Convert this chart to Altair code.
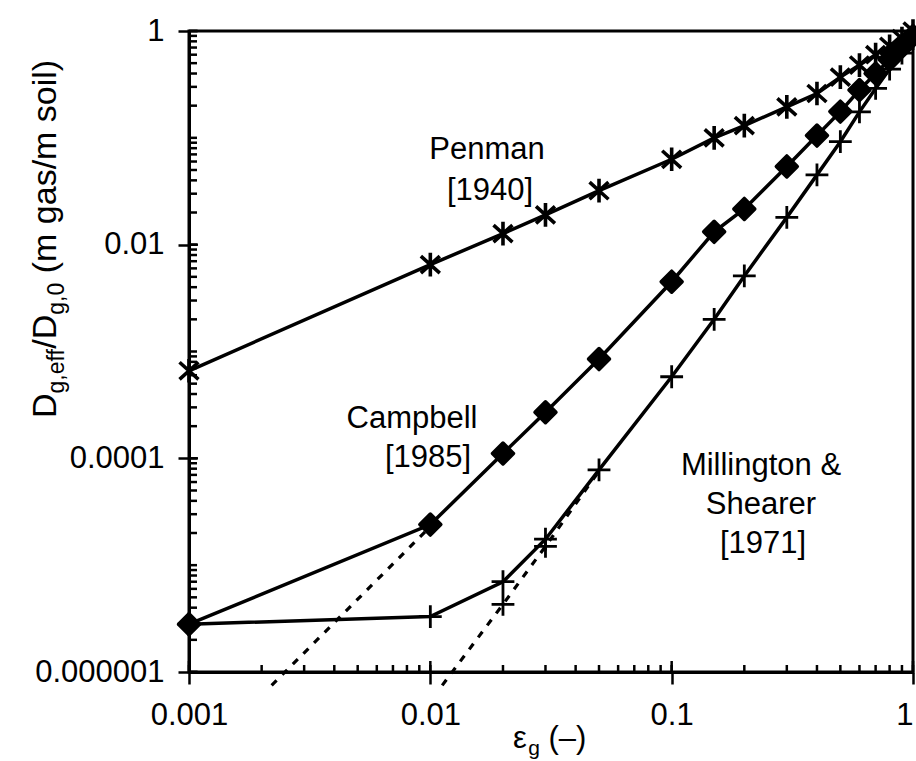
import altair as alt
import pandas as pd

# Gas-filled porosity (m3 gas / m3 soil) at which each model is evaluated
eps = [0.001, 0.01, 0.02, 0.03, 0.05, 0.1, 0.15, 0.2, 0.3, 0.4, 0.5, 0.6, 0.7, 0.8, 0.9, 1.0]

# Relative effective diffusivity Dg,eff/Dg,0 for each model
penman = [6.6e-4, 6.5e-3, 0.0127, 0.019, 0.032, 0.063, 0.10, 0.13, 0.195, 0.26, 0.37, 0.48, 0.60, 0.72, 0.85, 1.0]
campbell = [2.8e-6, 2.4e-5, 1.11e-4, 2.7e-4, 8.5e-4, 4.5e-3, 0.0132, 0.0216, 0.054, 0.105, 0.176, 0.28, 0.40, 0.54, 0.71, 0.9]
millington = [2.8e-6, 3.3e-6, 7.0e-6, 1.75e-5, 7.8e-5, 5.8e-4, 2.0e-3, 5.1e-3, 0.018, 0.045, 0.092, 0.175, 0.29, 0.44, 0.62, 0.85]

# Pure power-law branches (no minimum diffusivity), drawn dashed
campbell_pl_eps = [0.0022, 0.01]
campbell_pl = [7.5e-7, 2.3e-5]
millington_pl_eps = [0.0112, 0.02, 0.03, 0.05]
millington_pl = [7.5e-7, 4.3e-6, 1.5e-5, 7.6e-5]

# Axis tick values
x_labels = [0.001, 0.01, 0.1, 1]
y_labels = [1e-6, 1e-4, 1e-2, 1]
x_minor = [m * 10.0 ** e for e in range(-3, 0) for m in range(1, 10)] + [1.0]
y_minor = [m * 10.0 ** e for e in range(-6, 0) for m in range(1, 10)] + [1.0]

W, H = 724, 641
FONT = "Liberation Sans"
FS = 31

solid = pd.concat([
    pd.DataFrame({"eps": eps, "D": penman, "model": "Penman"}),
    pd.DataFrame({"eps": eps, "D": campbell, "model": "Campbell"}),
    pd.DataFrame({"eps": eps, "D": millington, "model": "Millington"}),
])
dashed = pd.concat([
    pd.DataFrame({"eps": campbell_pl_eps, "D": campbell_pl, "model": "Campbell"}),
    pd.DataFrame({"eps": millington_pl_eps, "D": millington_pl, "model": "Millington"}),
])
mill_marks = pd.concat([
    pd.DataFrame({"eps": eps, "D": millington}),
    pd.DataFrame({"eps": millington_pl_eps[1:3], "D": millington_pl[1:3]}),
])

xs = alt.Scale(type="log", domain=[0.001, 1], nice=False)
ys = alt.Scale(type="log", domain=[1e-6, 1], nice=False)

x_axis = alt.Axis(values=x_labels, format="~g", title="", grid=False,
                  domainColor="black", domainWidth=3, tickColor="black",
                  tickWidth=2.5, tickSize=12, labelFont=FONT, labelFontSize=FS,
                  labelColor="black", labelPadding=16, labelFlush=False,
                  labelAlign={"expr": "datum.value >= 1 ? 'right' : 'center'"},
                  labelOverlap=False, labelBound=False)
y_axis = alt.Axis(values=y_labels, format="~g", title="", grid=False,
                  domainColor="black", domainWidth=3, tickColor="black",
                  tickWidth=2.5, tickSize=11, labelFont=FONT, labelFontSize=FS,
                  labelColor="black", labelPadding=14, labelFlush=False,
                  labelOverlap=False, labelBound=False)

def X(field):
    return alt.X(f"{field}:Q", scale=xs, axis=x_axis)

def Y(field):
    return alt.Y(f"{field}:Q", scale=ys, axis=y_axis)

lines = alt.Chart(solid).mark_line(color="black", strokeWidth=3.5).encode(
    x=X("eps"), y=Y("D"), detail="model:N", order="eps:Q")

dash_lines = alt.Chart(dashed).mark_line(
    color="black", strokeWidth=3.2, strokeDash=[7, 8]).encode(
    x=X("eps"), y=Y("D"), detail="model:N", order="eps:Q")

STAR = "M0,-1L0,1M-0.8,-0.72L0.8,0.72M-0.8,0.72L0.8,-0.72"
PLUS = "M-1,0L1,0M0,-1L0,1"

pen_pts = alt.Chart(pd.DataFrame({"eps": eps, "D": penman})).mark_point(
    shape=STAR, size=560, filled=False, stroke="black", strokeWidth=3.6,
    opacity=1).encode(x=X("eps"), y=Y("D"))

camp_pts = alt.Chart(pd.DataFrame({"eps": eps, "D": campbell})).mark_point(
    shape="diamond", size=440, filled=True, fill="black", stroke="black",
    strokeWidth=3.5, strokeJoin="round", opacity=1).encode(x=X("eps"), y=Y("D"))

mill_pts = alt.Chart(mill_marks).mark_point(
    shape=PLUS, size=520, filled=False, stroke="black", strokeWidth=2.8,
    opacity=1).encode(x=X("eps"), y=Y("D"))

# Inward minor ticks on the left and bottom axes
y_ticks = alt.Chart(pd.DataFrame({"v": y_minor})).mark_rule(
    color="black", strokeWidth=2.5).encode(
    y=Y("v"), x=alt.value(0), x2=alt.value(8))
x_ticks = alt.Chart(pd.DataFrame({"v": x_minor})).mark_rule(
    color="black", strokeWidth=2.5).encode(
    x=X("v"), y=alt.value(H), y2=alt.value(H - 7))
# Major ticks also cross into the plot
x_major_in = alt.Chart(pd.DataFrame({"v": x_labels})).mark_rule(
    color="black", strokeWidth=2.5).encode(
    x=X("v"), y=alt.value(H), y2=alt.value(H - 11))
y_major_in = alt.Chart(pd.DataFrame({"v": y_labels})).mark_rule(
    color="black", strokeWidth=2.5).encode(
    y=Y("v"), x=alt.value(0), x2=alt.value(9))

one = alt.Data(values=[{}])

def label(text, x, y, size=FS, align="center", angle=0, baseline="alphabetic"):
    return alt.Chart(one).mark_text(
        font=FONT, fontSize=size, color="black", align=align,
        baseline=baseline, angle=angle).encode(
        x=alt.value(x), y=alt.value(y), text=alt.value(text))

ox, oy = 189, 31  # plot origin on the page
notes = [
    label("Penman", 487 - ox, 159 - oy),
    label("[1940]", 490 - ox, 200 - oy),
    label("Campbell", 412 - ox, 428 - oy),
    label("[1985]", 428 - ox, 467 - oy),
    label("Millington &", 761 - ox, 475 - oy),
    label("Shearer", 761 - ox, 514 - oy),
    label("[1971]", 763 - ox, 553 - oy),
]

# Helvetica-metric advance widths (per em) for the composed axis titles
ADV = {"D": 0.722, "g": 0.556, ",": 0.278, "e": 0.556, "f": 0.278, "/": 0.278,
       "0": 0.556, " ": 0.278, "(": 0.333, ")": 0.333,
       "m": 0.833, "a": 0.556, "s": 0.5, "o": 0.556, "i": 0.222, "l": 0.222,
       "ε": 0.49, "–": 0.556}

def width(text, size):
    return sum(ADV.get(c, 0.556) for c in text) * size

# Each piece: text, subscript?, leading gap in ems (leading spaces get trimmed)
# y title: D_{g,eff}/D_{g,0} (m gas/m soil), rotated to read upward
YT_MAIN, YT_SUB = 34, 23
pieces = [("D", False, 0), ("g,eff", True, 0), ("/D", False, 0),
          ("g,0", True, 0), ("(m gas/m soil)", False, 0.278)]
ytitle = []
pos = 418 - oy
for txt, sub, gap in pieces:
    size = YT_SUB if sub else YT_MAIN
    pos -= gap * size
    xb = (64 if sub else 56) - ox
    ytitle.append(label(txt, xb, pos, size=size, align="left", angle=270))
    pos -= width(txt, size)

# x title: ε_g (–)
XT_MAIN, XT_SUB = 31, 21
xpos = 513 - ox
xtitle = []
for txt, sub, gap in [("ε", False, 0), ("g", True, 0), ("(–)", False, 0.278)]:
    size = XT_SUB if sub else XT_MAIN
    xpos += gap * size
    yb = (755 if sub else 748) - oy
    xtitle.append(label(txt, xpos, yb, size=size, align="left"))
    xpos += width(txt, size)

chart = alt.layer(
    lines, dash_lines, y_ticks, x_ticks, x_major_in, y_major_in,
    pen_pts, camp_pts, mill_pts, *notes, *ytitle, *xtitle
).properties(
    width=W, height=H,
    autosize=alt.AutoSizeParams(type="none"),
    padding={"left": ox, "top": oy, "right": 916 - ox - W, "bottom": 761 - oy - H},
    background="white",
).configure_view(stroke="black", strokeWidth=3)

chart.save("out.html", embed_options={"renderer": "svg", "actions": False})
